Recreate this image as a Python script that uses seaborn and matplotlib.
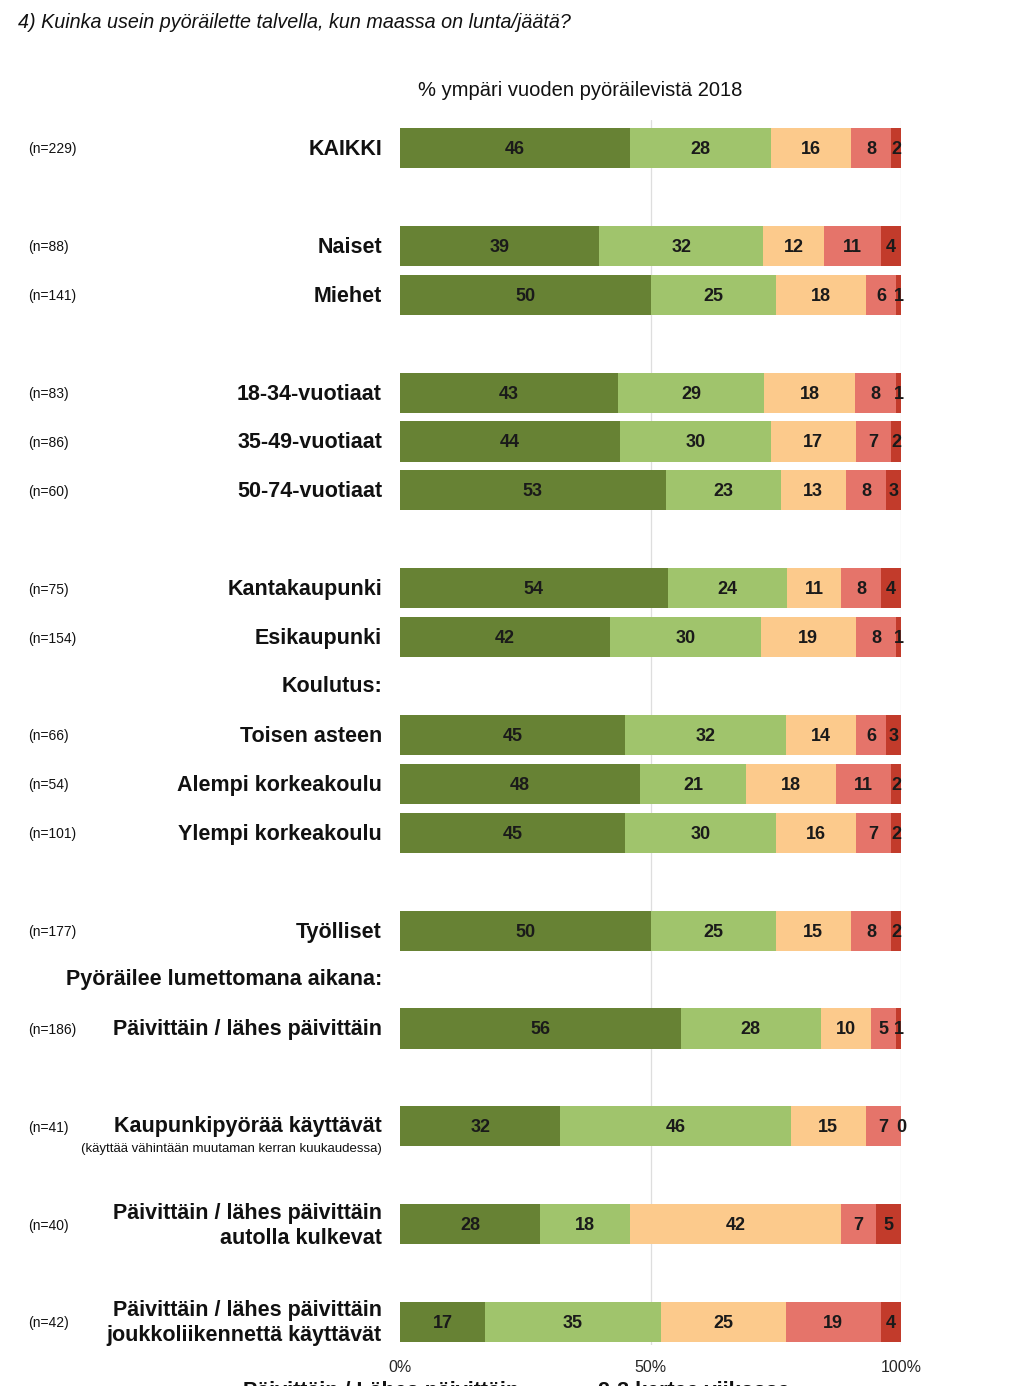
import numpy as np
import pandas as pd
import matplotlib
matplotlib.use("Agg")
import matplotlib.pyplot as plt
import matplotlib.transforms as mtransforms
import seaborn as sns

# ---------------- data ----------------
row_labels = ["KAIKKI", "Naiset", "Miehet", "18-34-vuotiaat", "35-49-vuotiaat",
              "50-74-vuotiaat", "Kantakaupunki", "Esikaupunki", "Toisen asteen",
              "Alempi korkeakoulu", "Ylempi korkeakoulu", "Työlliset",
              "Päivittäin / lähes päivittäin", "Kaupunkipyörää käyttävät",
              "Päivittäin / lähes päivittäin\nautolla kulkevat",
              "Päivittäin / lähes päivittäin\njoukkoliikennettä käyttävät"]
n_labels = ["(n=229)", "(n=88)", "(n=141)", "(n=83)", "(n=86)", "(n=60)", "(n=75)",
            "(n=154)", "(n=66)", "(n=54)", "(n=101)", "(n=177)", "(n=186)",
            "(n=41)", "(n=40)", "(n=42)"]
row_slots = [0, 2, 3, 5, 6, 7, 9, 10, 12, 13, 14, 16, 18, 20, 22, 24]
header_labels = ["Koulutus:", "Pyöräilee lumettomana aikana:"]
header_slots = [11, 17]
note_text = "(käyttää vähintään muutaman kerran kuukaudessa)"

seg1 = [46, 39, 50, 43, 44, 53, 54, 42, 45, 48, 45, 50, 56, 32, 28, 17]
seg2 = [28, 32, 25, 29, 30, 23, 24, 30, 32, 21, 30, 25, 28, 46, 18, 35]
seg3 = [16, 12, 18, 18, 17, 13, 11, 19, 14, 18, 16, 15, 10, 15, 42, 25]
seg4 = [8, 11, 6, 8, 7, 8, 8, 8, 6, 11, 7, 8, 5, 7, 7, 19]
seg5 = [2, 4, 1, 1, 2, 3, 4, 1, 3, 2, 2, 2, 1, 0, 5, 4]

title_text = "4) Kuinka usein pyöräilette talvella, kun maassa on lunta/jäätä?"
subtitle_text = "% ympäri vuoden pyöräilevistä 2018"
legend_texts = ["Päivittäin / Lähes päivittäin", "2-3 kertaa viikossa"]

colors = ["#678234", "#a0c46c", "#fcca8c", "#e5746a", "#c23b2b"]

# ---------------- figure ----------------
sns.set_theme(style="white")
plt.rcParams["font.family"] = ["Liberation Sans", "DejaVu Sans"]

W, H = 1024, 1386
fig = plt.figure(figsize=(W / 100, H / 100), dpi=100)
ax_left, ax_right = 400 / W, 901 / W
ax_top_px, ax_bot_px = 120, 1345
ax = fig.add_axes([ax_left, 1 - ax_bot_px / H, ax_right - ax_left, (ax_bot_px - ax_top_px) / H])

segs = np.array([seg1, seg2, seg3, seg4, seg5], dtype=float)
totals = segs.sum(axis=0)
norm = segs / totals * 100
cum = np.cumsum(norm, axis=0)

# draw stacked bars: longest (cumulative) first
for k in range(4, -1, -1):
    df = pd.DataFrame({"pos": row_slots, "val": cum[k]})
    sns.barplot(data=df, x="val", y="pos", orient="h", native_scale=True,
                color=colors[k], saturation=1, width=0.82, linewidth=0, ax=ax)

# value labels
starts = np.vstack([np.zeros(len(row_slots)), cum[:-1]])
for k in range(5):
    for i, pos in enumerate(row_slots):
        xc = starts[k, i] + norm[k, i] / 2
        ax.text(xc, pos + 0.03, f"{int(segs[k, i])}", ha="center", va="center",
                fontsize=13, fontweight="bold", color="#1a1a1a", zorder=5)

ax.set_xlim(0, 100)
slot_px = (1322 - 148) / 24
ax.set_ylim(24 + (ax_bot_px - 1322) / slot_px, -(148 - ax_top_px) / slot_px)
for s in ax.spines.values():
    s.set_visible(False)
ax.set_xticks([0, 50, 100])
ax.set_xticklabels(["0%", "50%", "100%"], fontsize=11.5)
ax.tick_params(axis="x", length=0, pad=11)
ax.set_yticks([])
ax.set_xlabel("")
ax.set_ylabel("")
for g in [50, 100]:
    ax.axvline(g, color="#dedede", lw=0.9, zorder=0)

# row labels
trans = mtransforms.blended_transform_factory(fig.transFigure, ax.transData)
lab_x = 382 / W
n_x = 28 / W
for lab, nl, pos in zip(row_labels, n_labels, row_slots):
    if lab.startswith("Kaupunkipyörää"):
        ax.text(lab_x, pos, lab, transform=trans, ha="right", va="center",
                fontsize=15.5, fontweight="bold", color="#111111", clip_on=False)
        ax.text(lab_x, pos + 0.46, note_text, transform=trans, ha="right",
                va="center", fontsize=9.5, color="#111111", clip_on=False)
    else:
        ax.text(lab_x, pos + 0.03, lab, transform=trans, ha="right", va="center",
                fontsize=15.5, fontweight="bold", color="#111111",
                multialignment="right", linespacing=1.25, clip_on=False)
    ax.text(n_x, pos + 0.03, nl, transform=trans, ha="left", va="center",
            fontsize=10, color="#111111", clip_on=False)
for lab, pos in zip(header_labels, header_slots):
    ax.text(lab_x, pos, lab, transform=trans, ha="right", va="center",
            fontsize=15.5, fontweight="bold", color="#111111", clip_on=False)

# titles
fig.text(18 / W, 1 - 22 / H, title_text, ha="left", va="center", fontsize=14.2,
         style="italic", color="#111111",
         family=["Liberation Sans Narrow", "Liberation Sans", "DejaVu Sans"])
fig.text(580 / W, 1 - 90 / H, subtitle_text, ha="center", va="center",
         fontsize=14.5, color="#111111")

# legend (cut off at the bottom edge, as in the reference)
fig.text(243 / W, 1 - 1381 / H, legend_texts[0], ha="left", va="top",
         fontsize=15.5, fontweight="bold", color="#111111")
fig.text(598 / W, 1 - 1381 / H, legend_texts[1], ha="left", va="top",
         fontsize=15.5, fontweight="bold", color="#111111")

fig.savefig("out.png", dpi=100, facecolor="white")
